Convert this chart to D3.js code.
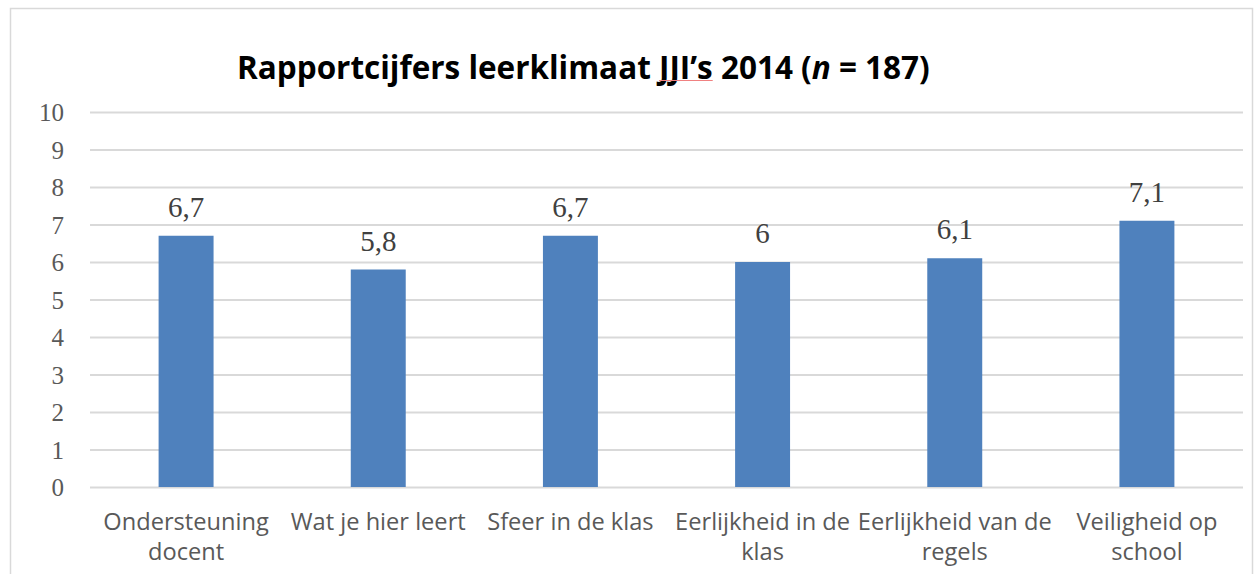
<!DOCTYPE html>
<html>
<head>
<meta charset="utf-8">
<script src="https://cdn.jsdelivr.net/npm/d3@7"></script>
<style>
  body { margin: 0; background: #fff; }
  svg { display: block; }
</style>
</head>
<body>
<svg id="chart" width="1254" height="574"></svg>
<script>
// data
const categories = ['Ondersteuning docent', 'Wat je hier leert', 'Sfeer in de klas',
    'Eerlijkheid in de klas', 'Eerlijkheid van de regels', 'Veiligheid op school'];
const values = [6.7, 5.8, 6.7, 6.0, 6.1, 7.1];
const yTicks = [0, 1, 2, 3, 4, 5, 6, 7, 8, 9, 10];
const titleParts = [
    { text: 'Rapportcijfers leerklimaat JJI\u2019s 2014 (', italic: false },
    { text: 'n', italic: true },
    { text: ' = 187)', italic: false }
];

const width = 1254, height = 574;
const plot = { left: 90, right: 1243, top: 112, bottom: 487 };
const gridColor = '#d9d9d9';
const barColor = '#4f81bd';

const svg = d3.select('#chart');

// outer frame (runs off the bottom of the picture)
svg.append('rect')
    .attr('x', 10.5)
    .attr('y', 8.5)
    .attr('width', 1242)
    .attr('height', 620)
    .attr('fill', '#fff')
    .attr('stroke', gridColor)
    .attr('stroke-width', 1.5);

const xScale = d3.scaleBand()
    .domain(categories)
    .range([plot.left, plot.right])
    .padding(0);

const yScale = d3.scaleLinear()
    .domain([0, 10])
    .range([plot.bottom, plot.top]);

const barWidth = xScale.bandwidth() * 0.286;

// y axis: gridlines + labels
const yAxis = d3.axisLeft(yScale)
    .tickValues(yTicks)
    .tickSize(-(plot.right - plot.left))
    .tickPadding(26)
    .tickFormat(d3.format('d'));

const yG = svg.append('g')
    .attr('id', 'y-axis')
    .attr('transform', `translate(${plot.left},0)`)
    .call(yAxis);

yG.select('.domain').remove();
yG.selectAll('.tick line')
    .attr('stroke', gridColor)
    .attr('stroke-width', 2);
yG.selectAll('.tick text')
    .style('font-family', '"Liberation Serif", serif')
    .style('font-size', '25px')
    .attr('fill', '#595959')
    .attr('dy', '0.34em');

// bars
svg.append('g')
    .selectAll('rect')
    .data(values)
    .join('rect')
    .attr('x', (d, i) => xScale(categories[i]) + (xScale.bandwidth() - barWidth) / 2)
    .attr('y', d => yScale(d))
    .attr('width', barWidth)
    .attr('height', d => yScale(0) - yScale(d))
    .attr('fill', barColor);

// value labels
svg.append('g')
    .selectAll('text')
    .data(values)
    .join('text')
    .attr('x', (d, i) => xScale(categories[i]) + xScale.bandwidth() / 2)
    .attr('y', d => yScale(d) - 19)
    .attr('text-anchor', 'middle')
    .style('font-family', '"Liberation Serif", serif')
    .style('font-size', '29px')
    .attr('fill', '#404040')
    .text(d => d3.format('.2~f')(d).replace('.', ','));

// category labels, wrapped to the band width
const labelFont = '"Open Sans", sans-serif';
const probe = svg.append('text')
    .style('font-family', labelFont)
    .style('font-size', '20px')
    .text('Wat je hier leert');
const labelSize = 20 * 175 / probe.node().getComputedTextLength();
probe.remove();

function wrapWords(str, maxWidth) {
    const tmp = svg.append('text')
        .style('font-family', labelFont)
        .style('font-size', labelSize + 'px');
    const words = str.split(' ');
    const lines = [];
    let line = [];
    words.forEach(w => {
        line.push(w);
        tmp.text(line.join(' '));
        if (tmp.node().getComputedTextLength() > maxWidth && line.length > 1) {
            line.pop();
            lines.push(line.join(' '));
            line = [w];
        }
    });
    lines.push(line.join(' '));
    tmp.remove();
    return lines;
}

const xLabels = svg.append('g').attr('id', 'x-labels');
categories.forEach(c => {
    const lines = wrapWords(c, xScale.bandwidth() + 8);
    const t = xLabels.append('text')
        .attr('text-anchor', 'middle')
        .style('font-family', labelFont)
        .style('font-size', labelSize + 'px')
        .attr('fill', '#595959');
    lines.forEach((l, i) => {
        t.append('tspan')
            .attr('x', xScale(c) + xScale.bandwidth() / 2)
            .attr('y', 530 + i * 30)
            .text(l);
    });
});

// title, squeezed horizontally to the reference width (narrow face look)
const titleG = svg.append('g');
const title = titleG.append('text')
    .attr('x', 0)
    .attr('y', 0)
    .style('font-family', '"Open Sans", sans-serif')
    .style('font-size', '32px')
    .style('font-weight', 'bold')
    .attr('fill', '#000');

titleParts.forEach(p => {
    title.append('tspan')
        .style('font-style', p.italic ? 'italic' : 'normal')
        .text(p.text);
});

const titleW = title.node().getComputedTextLength();
const sx = 693 / titleW;
titleG.attr('transform', `translate(237,79) scale(${sx},1)`);

// red spell-check underline below "JJI's"
const full = titleParts.map(p => p.text).join('');
const startIdx = full.indexOf('JJI');
const endIdx = startIdx + 4;
const tnode = title.node();
const ux0 = tnode.getStartPositionOfChar(startIdx).x;
const ux1 = tnode.getEndPositionOfChar(endIdx).x;
titleG.append('line')
    .attr('x1', ux0)
    .attr('x2', ux1)
    .attr('y1', 1.5)
    .attr('y2', 1.5)
    .attr('stroke', '#f08080')
    .attr('stroke-width', 1);
</script>
</body>
</html>
